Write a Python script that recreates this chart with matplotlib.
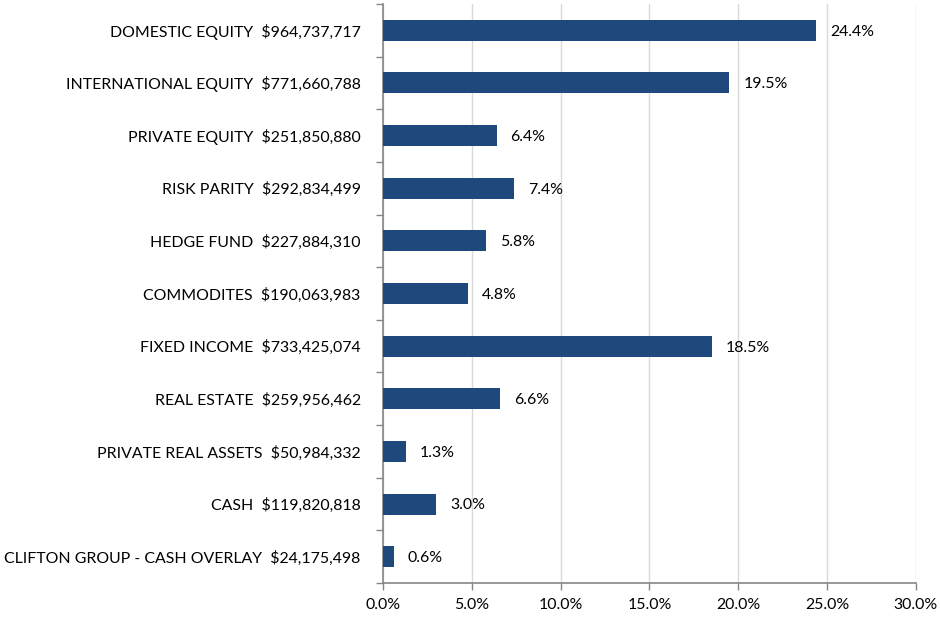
import matplotlib.pyplot as plt
from matplotlib.ticker import FixedLocator, FuncFormatter

plt.rcParams['font.family'] = ['Lato', 'DejaVu Sans']

# asset classes, top to bottom
names = ["DOMESTIC EQUITY", "INTERNATIONAL EQUITY", "PRIVATE EQUITY", "RISK PARITY",
         "HEDGE FUND", "COMMODITES", "FIXED INCOME", "REAL ESTATE",
         "PRIVATE REAL ASSETS", "CASH", "CLIFTON GROUP - CASH OVERLAY"]
amounts = ["$964,737,717", "$771,660,788", "$251,850,880", "$292,834,499",
           "$227,884,310", "$190,063,983", "$733,425,074", "$259,956,462",
           "$50,984,332", "$119,820,818", "$24,175,498"]
pct = [24.4, 19.5, 6.4, 7.4, 5.8, 4.8, 18.5, 6.6, 1.3, 3.0, 0.6]

bar_color = "#1F497D"
axis_gray = "#868686"
fs = 11.4

fig = plt.figure(figsize=(9.4, 6.24), dpi=100)
ax = fig.add_axes([0.4074, 0.0657, 0.567, 0.9279])

y = list(range(len(names)))
ax.barh(y, pct, height=0.4, color=bar_color, zorder=3)
ax.set_ylim(len(names) - 0.5, -0.5)
ax.set_xlim(0, 30)

for yi, v in zip(y, pct):
    ax.annotate(f"{v:.1f}%", (v, yi), xytext=(10, -1), textcoords="offset points",
                va="center", ha="left", fontsize=fs, color="black")

labels = [f"{n}  {a}" for n, a in zip(names, amounts)]
ax.set_yticks(y)
ax.set_yticklabels(labels, fontsize=fs)
ax.tick_params(axis="y", which="major", length=0, pad=16)
ax.yaxis.set_minor_locator(FixedLocator([i - 0.5 for i in range(len(names) + 1)]))
ax.tick_params(axis="y", which="minor", length=5, color=axis_gray, width=1)

ax.set_xticks([0, 5, 10, 15, 20, 25, 30])
ax.xaxis.set_major_formatter(FuncFormatter(lambda v, p: f"{v:.1f}%"))
ax.tick_params(axis="x", length=5, color=axis_gray, width=1, labelsize=fs, pad=6)

ax.grid(axis="x", color="#D9D9D9", linewidth=1, zorder=0)
for s in ["top", "right"]:
    ax.spines[s].set_visible(False)
for s in ["left", "bottom"]:
    ax.spines[s].set_color(axis_gray)
    ax.spines[s].set_linewidth(1.2)

fig.savefig("out.png", dpi=100)
